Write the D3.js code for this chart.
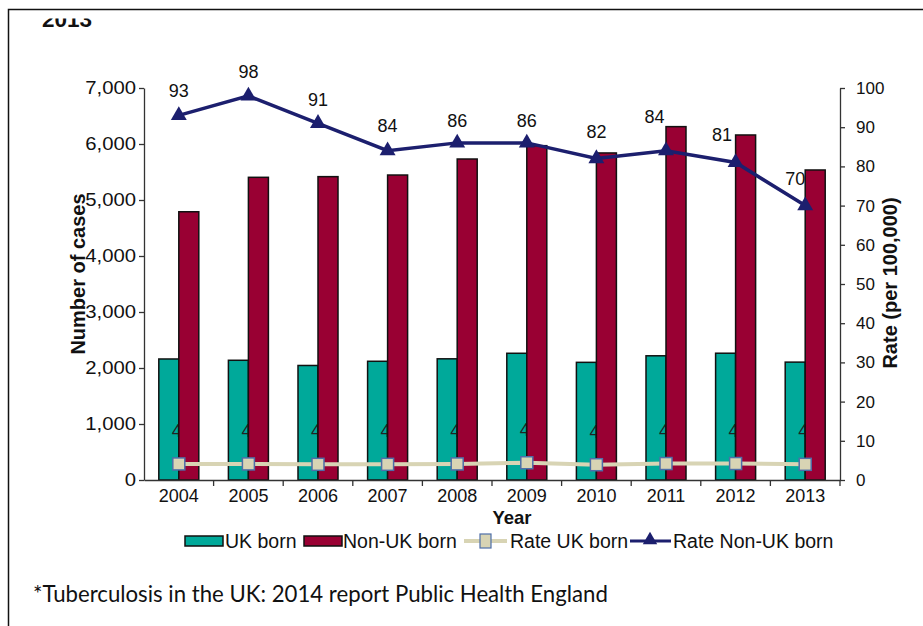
<!DOCTYPE html>
<html>
<head>
<meta charset="utf-8">
<script src="https://cdn.jsdelivr.net/npm/d3@7"></script>
<style>
  html, body { margin: 0; padding: 0; background: #fff; }
  svg { display: block; }
</style>
</head>
<body>
<div id="chart"></div>
<script>
// TB notifications by place of birth, England 2004–2013
const years = ["2004","2005","2006","2007","2008","2009","2010","2011","2012","2013"];
const ukBorn    = [2161, 2138, 2045, 2120, 2164, 2263, 2101, 2218, 2264, 2105];
const nonUkBorn = [4790, 5405, 5417, 5446, 5732, 5970, 5840, 6310, 6161, 5536];
const rateUk    = [4.1, 4.1, 4.0, 4.0, 4.1, 4.4, 3.9, 4.2, 4.2, 4.0];
const rateNonUk = [93, 98, 91, 84, 86, 86, 82, 84, 81, 70];
const casesTicks = [0, 1000, 2000, 3000, 4000, 5000, 6000, 7000];
const rateTicks  = [0, 10, 20, 30, 40, 50, 60, 70, 80, 90, 100];
const legendItems = ["UK born", "Non-UK born", "Rate UK born", "Rate Non-UK born"];

const W = 923, H = 626;
const C = { teal: "#00A99A", red: "#990033", navy: "#1C1F6E", beige: "#D8D4B4", sqEdge: "#4E6EA8" };
const font = "'Liberation Sans', Arial, sans-serif";

const svg = d3.select("#chart").append("svg").attr("width", W).attr("height", H);

// page frame
svg.append("path").attr("d", `M8.5,${H} V9.5 H${W}`).attr("fill", "none").attr("stroke", "#111").attr("stroke-width", 1.5);

// heading (only its lower edge falls inside the frame)
svg.append("clipPath").attr("id", "headClip").append("rect").attr("x", 0).attr("y", 18.5).attr("width", 300).attr("height", 20);
svg.append("text").attr("clip-path", "url(#headClip)").attr("x", 42).attr("y", 26.5)
  .attr("font-family", font).attr("font-weight", "bold").attr("font-size", 22.5).attr("fill", "#111").text("2013");

const plot = { left: 144, right: 840, top: 88, bottom: 480 };

const x = d3.scaleBand().domain(years).range([plot.left, plot.right]).paddingInner(0).paddingOuter(0);
const sub = d3.scaleBand().domain(["uk", "non"]).range([0, 40]);
const barOffset = (x.bandwidth() - 40) / 2;
const yCases = d3.scaleLinear().domain([0, 7000]).range([plot.bottom, plot.top]);
const yRate  = d3.scaleLinear().domain([0, 100]).range([plot.bottom, plot.top]);

// UK-born bars
svg.append("g").selectAll("rect").data(years).join("rect")
  .attr("x", d => x(d) + barOffset + sub("uk"))
  .attr("y", (d, i) => yCases(ukBorn[i]))
  .attr("width", sub.bandwidth())
  .attr("height", (d, i) => yCases(0) - yCases(ukBorn[i]))
  .attr("fill", C.teal).attr("stroke", "#111").attr("stroke-width", 1.5);

const cx = d => x(d) + x.bandwidth() / 2;

// UK-born rate labels sit under the non-UK bars
svg.append("g").selectAll("text").data(years).join("text")
  .attr("x", d => cx(d) - 2)
  .attr("y", (d, i) => yRate(rateUk[i]) - 27)
  .attr("text-anchor", "middle")
  .attr("font-family", font).attr("font-size", 18).attr("fill", "#222")
  .text((d, i) => d3.format(".0f")(rateUk[i]));

// non-UK-born bars
svg.append("g").selectAll("rect").data(years).join("rect")
  .attr("x", d => x(d) + barOffset + sub("non"))
  .attr("y", (d, i) => yCases(nonUkBorn[i]))
  .attr("width", sub.bandwidth())
  .attr("height", (d, i) => yCases(0) - yCases(nonUkBorn[i]))
  .attr("fill", C.red).attr("stroke", "#111").attr("stroke-width", 1.5);

// axes
const axisStyle = (size) => g => {
  g.selectAll("path.domain").attr("stroke", "#333").attr("stroke-width", 1.3);
  g.selectAll(".tick line").attr("stroke", "#333").attr("stroke-width", 1.3);
  g.selectAll(".tick text").attr("font-family", font).attr("font-size", size).attr("fill", "#111");
};

// left axis labels are set a little wide
const stretch = 1.16;
const leftAxis = svg.append("g").attr("transform", `translate(${plot.left},0)`)
  .call(d3.axisLeft(yCases).tickValues(casesTicks).tickFormat(d3.format(",")).tickSize(5).tickSizeOuter(0).tickPadding(3))
  .call(axisStyle(17.5));
leftAxis.selectAll(".tick text").attr("x", -8 / stretch).attr("transform", `scale(${stretch},1)`);

svg.append("g").attr("transform", `translate(${plot.right},0)`)
  .call(d3.axisRight(yRate).tickValues(rateTicks).tickSize(5).tickSizeOuter(0).tickPadding(11))
  .call(axisStyle(17));

// category axis: ticks fall on the band boundaries
const xAxis = svg.append("g").attr("transform", `translate(0,${plot.bottom})`)
  .call(d3.axisBottom(x).tickSize(0).tickPadding(9.5))
  .call(axisStyle(18));
xAxis.selectAll(".tick text").attr("dy", "0.71em");
xAxis.append("g").selectAll("line").data(years.slice(1).concat(["end"])).join("line")
  .attr("x1", d => d === "end" ? plot.right : x(d))
  .attr("x2", d => d === "end" ? plot.right : x(d))
  .attr("y1", 0).attr("y2", 6).attr("stroke", "#333").attr("stroke-width", 1.3);

// UK-born rate line
const lineUk = d3.line().x(d => cx(d)).y((d, i) => yRate(rateUk[i]));
svg.append("path").datum(years).attr("d", lineUk)
  .attr("fill", "none").attr("stroke", C.beige).attr("stroke-width", 4);
svg.append("g").selectAll("rect").data(years).join("rect")
  .attr("x", d => cx(d) - 6).attr("y", (d, i) => yRate(rateUk[i]) - 6)
  .attr("width", 12).attr("height", 12)
  .attr("fill", C.beige).attr("stroke", C.sqEdge).attr("stroke-width", 1.5);

// non-UK-born rate line
const lineNon = d3.line().x(d => cx(d)).y((d, i) => yRate(rateNonUk[i]));
svg.append("path").datum(years).attr("d", lineNon)
  .attr("fill", "none").attr("stroke", C.navy).attr("stroke-width", 3.5);
const tri = d3.symbol().type(d3.symbolTriangle).size(110);
svg.append("g").selectAll("path").data(years).join("path")
  .attr("transform", (d, i) => `translate(${cx(d)},${yRate(rateNonUk[i])})`)
  .attr("d", tri).attr("fill", C.navy);

// value labels above the non-UK-born rate points, nudged clear of tall bars
const labelDx = [0, 0, 0, 0, 0, 0, 0, -11.5, -13.5, -10];
const labelDy = [-18, -18, -17, -19, -16, -16, -21, -28, -21.5, -21];
svg.append("g").selectAll("text").data(years).join("text")
  .attr("x", (d, i) => cx(d) + labelDx[i])
  .attr("y", (d, i) => yRate(rateNonUk[i]) + labelDy[i])
  .attr("text-anchor", "middle")
  .attr("font-family", font).attr("font-size", 18).attr("fill", "#111")
  .text((d, i) => rateNonUk[i]);

// axis titles
svg.append("text").attr("transform", `translate(85,274) rotate(-90)`)
  .attr("text-anchor", "middle").attr("font-family", font).attr("font-weight", "bold").attr("font-size", 20)
  .attr("fill", "#111").text("Number of cases");
svg.append("text").attr("transform", `translate(897,283) rotate(-90)`)
  .attr("text-anchor", "middle").attr("font-family", font).attr("font-weight", "bold").attr("font-size", 20)
  .attr("fill", "#111").text("Rate (per 100,000)");
svg.append("text").attr("x", 512).attr("y", 523.5)
  .attr("text-anchor", "middle").attr("font-family", font).attr("font-weight", "bold").attr("font-size", 18.5)
  .attr("fill", "#111").text("Year");

// legend
const leg = svg.append("g").attr("transform", "translate(0,541)");
leg.append("rect").attr("x", 185).attr("y", -5).attr("width", 38).attr("height", 10)
  .attr("fill", C.teal).attr("stroke", "#111").attr("stroke-width", 1.5);
leg.append("rect").attr("x", 304).attr("y", -5).attr("width", 38).attr("height", 10)
  .attr("fill", C.red).attr("stroke", "#111").attr("stroke-width", 1.5);
leg.append("line").attr("x1", 464).attr("x2", 507).attr("y1", 0).attr("y2", 0)
  .attr("stroke", C.beige).attr("stroke-width", 4);
leg.append("rect").attr("x", 480).attr("y", -7).attr("width", 11).attr("height", 14)
  .attr("fill", C.beige).attr("stroke", C.sqEdge).attr("stroke-width", 1.2);
leg.append("line").attr("x1", 630).attr("x2", 671).attr("y1", 0).attr("y2", 0)
  .attr("stroke", C.navy).attr("stroke-width", 3);
leg.append("path").attr("transform", "translate(650,-1)")
  .attr("d", d3.symbol().type(d3.symbolTriangle).size(90)).attr("fill", C.navy);
const legTextX = [225, 343, 510, 673];
leg.selectAll("text.lbl").data(legendItems).join("text").attr("class", "lbl")
  .attr("x", (d, i) => legTextX[i]).attr("y", 7)
  .attr("font-family", font).attr("font-size", 19.5).attr("fill", "#111")
  .text(d => d);

// source note
svg.append("text").attr("x", 33).attr("y", 602)
  .attr("font-family", "Lato, 'Open Sans', sans-serif").attr("font-size", 22.2).attr("fill", "#111")
  .text("*Tuberculosis in the UK: 2014 report Public Health England");
</script>
</body>
</html>
